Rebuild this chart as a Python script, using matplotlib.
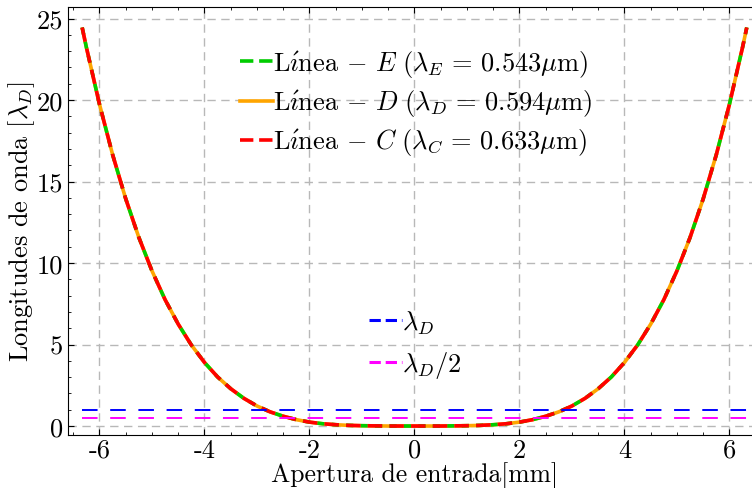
import numpy as np
import matplotlib
matplotlib.use("Agg")
import matplotlib.pyplot as plt
from matplotlib.lines import Line2D

plt.rcParams['font.family'] = ['cmr10', 'DejaVu Serif']
plt.rcParams['mathtext.fontset'] = 'cm'
plt.rcParams['axes.unicode_minus'] = False

# Datos
apertura = [-6.33, -6.25, -6.0, -5.75, -5.5, -5.25, -5.0, -4.75, -4.5, -4.25,
            -4.0, -3.75, -3.5, -3.25, -3.0, -2.75, -2.5, -2.25, -2.0, -1.75,
            -1.5, -1.25, -1.0, -0.75, -0.5, -0.25, 0.0,
            0.25, 0.5, 0.75, 1.0, 1.25, 1.5, 1.75, 2.0, 2.25, 2.5,
            2.75, 3.0, 3.25, 3.5, 3.75, 4.0, 4.25, 4.5, 4.75, 5.0,
            5.25, 5.5, 5.75, 6.0, 6.25, 6.33]
longitudes = [24.45, 23.24, 19.74, 16.65, 13.94, 11.57, 9.52, 7.75, 6.25, 4.97,
              3.90, 3.01, 2.29, 1.70, 1.23, 0.87, 0.60, 0.39, 0.24, 0.14,
              0.08, 0.04, 0.02, 0.01, 0.00, 0.00, 0.00,
              0.00, 0.00, 0.01, 0.02, 0.04, 0.08, 0.14, 0.24, 0.39, 0.60,
              0.87, 1.23, 1.70, 2.29, 3.01, 3.90, 4.97, 6.25, 7.75, 9.52,
              11.57, 13.94, 16.65, 19.74, 23.24, 24.45]
lambda_D = 1.0
lambda_D_2 = 0.5

etiquetas = [r'$\mathrm{L\acute{\imath}nea}\,-\,E\ (\lambda_E\,=\,0.543\mu\mathrm{m})$',
             r'$\mathrm{L\acute{\imath}nea}\,-\,D\ (\lambda_D\,=\,0.594\mu\mathrm{m})$',
             r'$\mathrm{L\acute{\imath}nea}\,-\,C\ (\lambda_C\,=\,0.633\mu\mathrm{m})$']
xticks = [-6, -4, -2, 0, 2, 4, 6]
xticklabels = ['-6', '-4', '-2', '0', '2', '4', '6']
yticks = [0, 5, 10, 15, 20, 25]

fig = plt.figure(figsize=(7.52, 4.89), dpi=100)
ax = fig.add_axes([0.0904, 0.1084, 0.9215, 0.875])

# curvas
ax.plot(apertura, longitudes, color='orange', lw=2.6, solid_capstyle='butt')
ax.plot(apertura, longitudes, color='#00cc00', lw=2.6, dashes=(2.0, 2.0),
        dash_capstyle='butt')
ax.plot(apertura, longitudes, color='red', lw=2.6, dashes=(4.0, 2.0),
        dash_capstyle='butt')

# lineas horizontales
xs = [apertura[0], apertura[-1] + 0.3]
ax.plot(xs, [lambda_D, lambda_D], color='blue', lw=1.4, dashes=(8, 6.5))
ax.plot(xs, [lambda_D_2, lambda_D_2], color='magenta', lw=1.4, dashes=(8, 6.5))

ax.set_xlim(-6.6, 6.6)
ax.set_ylim(-0.55, 25.7)
ax.set_xticks(xticks)
ax.set_xticklabels(xticklabels)
ax.set_yticks(yticks)
ax.set_xticks(np.arange(-6.5, 6.6, 0.5), minor=True)
ax.set_yticks(np.arange(0, 26, 1), minor=True)
ax.tick_params(which='both', direction='in', top=True, right=True, labelsize=19)
ax.tick_params(which='major', length=4, width=0.8)
ax.tick_params(axis='x', which='major', pad=2)
ax.tick_params(which='minor', length=2, width=0.6)
ax.grid(True, which='major', color='#b8b8b8', ls=(0, (6, 4)), lw=1.0)

ax.set_xlabel('Apertura de entrada[mm]', fontsize=18.5)
ax.xaxis.set_label_coords(0.5, -0.062)
ax.set_ylabel(r'Longitudes de onda $[\lambda_D]$', fontsize=19)
ax.yaxis.set_label_coords(-0.045, 0.5)

h1 = [Line2D([], [], color='#00cc00', lw=2.6, ls='--'),
      Line2D([], [], color='orange', lw=2.6),
      Line2D([], [], color='red', lw=2.6, ls='--')]
leg1 = ax.legend(h1, etiquetas, loc='center left', bbox_to_anchor=(0.319, 0.787),
                 bbox_transform=fig.transFigure, frameon=False, fontsize=19,
                 handlelength=1.25, handletextpad=0.0, labelspacing=0.3,
                 borderpad=0, borderaxespad=0)
ax.add_artist(leg1)

h2 = [Line2D([], [], color='blue', lw=2.2, ls='--'),
      Line2D([], [], color='magenta', lw=2.2, ls='--')]
ax.legend(h2, [r'$\lambda_D$', r'$\lambda_D/2$'], loc='center left',
          bbox_to_anchor=(0.491, 0.2945), bbox_transform=fig.transFigure,
          frameon=False, fontsize=19, handlelength=1.25, handletextpad=0.0,
          labelspacing=0.5, borderpad=0, borderaxespad=0)

plt.savefig('out.png', dpi=100)
